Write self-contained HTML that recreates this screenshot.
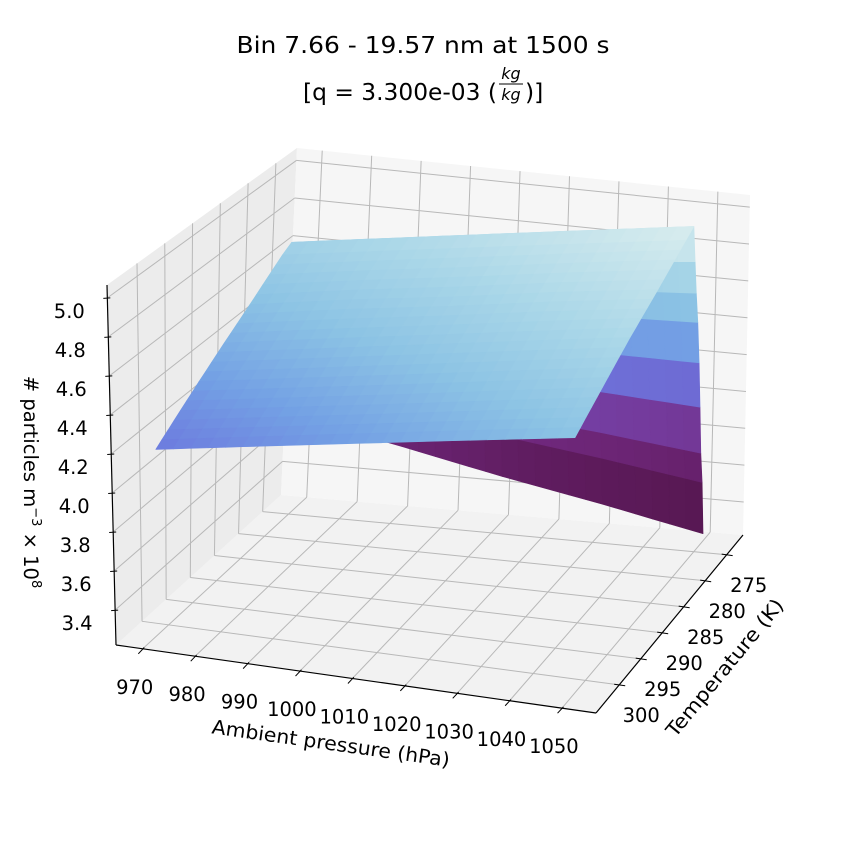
<!DOCTYPE html>
<html><head><meta charset="utf-8"><style>
html,body{margin:0;padding:0;background:#fff;}
svg{display:block;font-family:"DejaVu Sans","Liberation Sans",sans-serif;}
</style></head><body>
<svg id="chart" width="854" height="855" viewBox="0 0 854 855" xmlns="http://www.w3.org/2000/svg">
<rect x="0" y="0" width="854" height="855" fill="#fff"/>
<g id="panes"></g>
<g id="grid"></g>
<g id="surface"></g>
<g id="axes"></g>
<text x="423" y="53" text-anchor="middle" font-size="23.5" textLength="373" lengthAdjust="spacingAndGlyphs" fill="#000">Bin 7.66 - 19.57 nm at 1500 s</text>
<g>
<text x="303" y="100" font-size="23.5" fill="#000" textLength="194" lengthAdjust="spacingAndGlyphs">[q = 3.300e-03 (</text>
<text x="511" y="79" font-size="16" font-style="italic" text-anchor="middle" fill="#000">kg</text>
<line x1="499" y1="84" x2="523" y2="84" stroke="#000" stroke-width="1"/>
<text x="511" y="100" font-size="16" font-style="italic" text-anchor="middle" fill="#000">kg</text>
<text x="525" y="100" font-size="23.5" fill="#000">)]</text>
</g>
<text transform="translate(24,482) rotate(90)" text-anchor="middle" font-size="19.5" fill="#000"># particles m<tspan font-size="13" dy="-8">−3</tspan><tspan dy="8"> × 10</tspan><tspan font-size="13" dy="-8">8</tspan></text>
<text transform="translate(330,750) rotate(8)" text-anchor="middle" font-size="19.5" textLength="240" lengthAdjust="spacingAndGlyphs" fill="#000">Ambient pressure (hPa)</text>
<text transform="translate(730,672) rotate(-50.5)" text-anchor="middle" font-size="19.5" textLength="172" lengthAdjust="spacingAndGlyphs" fill="#000">Temperature (K)</text>
</svg>
<script>
// ---- data ----
const pressures = [970, 990, 1010, 1030, 1050];
const temperatures = [302, 296, 290, 284, 278, 276.3, 275.9, 275.5, 275.05, 274.6, 274.2, 273.8, 273.35, 272.9];
const values = [
  [4.17, 4.265, 4.36, 4.455, 4.55],
  [4.29, 4.38, 4.47, 4.565, 4.66],
  [4.41, 4.50, 4.59, 4.68, 4.77],
  [4.53, 4.62, 4.70, 4.79, 4.87],
  [4.66, 4.74, 4.82, 4.90, 4.98],
  [4.69, 4.77, 4.85, 4.93, 5.01],
  [4.57, 4.63, 4.69, 4.75, 4.81],
  [4.47, 4.51, 4.55, 4.59, 4.63],
  [4.37, 4.39, 4.42, 4.44, 4.46],
  [4.24, 4.24, 4.24, 4.23, 4.23],
  [4.09, 4.06, 4.04, 4.01, 3.98],
  [3.94, 3.89, 3.83, 3.78, 3.72],
  [3.85, 3.78, 3.70, 3.63, 3.55],
  [3.68, 3.58, 3.47, 3.37, 3.26]
];
const pressureTicks = [970, 980, 990, 1000, 1010, 1020, 1030, 1040, 1050];
const temperatureTicks = [275, 280, 285, 290, 295, 300];
const valueTicks = [3.4, 3.6, 3.8, 4.0, 4.2, 4.4, 4.6, 4.8, 5.0];
const valueTickLabels = ["3.4", "3.6", "3.8", "4.0", "4.2", "4.4", "4.6", "4.8", "5.0"];

// ---- axis limits & projection ----
const PMIN = 964.9, PMAX = 1056.5, TF = 305.4, TB = 271.2, ZMIN = 3.221, ZMAX = 5.066;
const FL = [116, 645], FR = [596, 713], BL = [281, 495], BR = [743, 535];
const TFL = [107, 285], TFR = [593, 361], TBL = [297, 148], TBR = [750, 195];
const NS = "http://www.w3.org/2000/svg";
function bil(a, b, c, d, u, v) {
  return [(1-u)*(1-v)*a[0] + u*(1-v)*b[0] + (1-u)*v*c[0] + u*v*d[0],
          (1-u)*(1-v)*a[1] + u*(1-v)*b[1] + (1-u)*v*c[1] + u*v*d[1]];
}
function projUVW(u, v, w) {
  const f = bil(FL, FR, BL, BR, u, v), t = bil(TFL, TFR, TBL, TBR, u, v);
  return [f[0] + w*(t[0]-f[0]), f[1] + w*(t[1]-f[1])];
}
const xs = p => (p - PMIN) / (PMAX - PMIN);
const ys = T => (TF - T) / (TF - TB);
const zs = z => (z - ZMIN) / (ZMAX - ZMIN);
function proj(p, T, z) { return projUVW(xs(p), ys(T), zs(z)); }

const stops = [[3.25,[80,20,70]],[3.55,[95,28,95]],[3.75,[112,40,125]],[3.95,[118,70,175]],[4.15,[108,118,222]],[4.35,[115,160,228]],[4.55,[140,195,228]],[4.75,[170,215,232]],[5.0,[215,236,238]]];
function cmap(z) {
  if (z <= stops[0][0]) return 'rgb(' + stops[0][1].join(',') + ')';
  for (let i = 1; i < stops.length; i++) {
    if (z <= stops[i][0]) {
      const f = (z - stops[i-1][0]) / (stops[i][0] - stops[i-1][0]);
      const c = stops[i-1][1].map((a, k) => Math.round(a + f*(stops[i][1][k]-a)));
      return 'rgb(' + c.join(',') + ')';
    }
  }
  return 'rgb(' + stops[stops.length-1][1].join(',') + ')';
}
function pts(a) { return a.map(q => q[0].toFixed(1) + ',' + q[1].toFixed(1)).join(' '); }
function line(g, a, b, stroke, sw) {
  const l = document.createElementNS(NS, 'line');
  l.setAttribute('x1', a[0]); l.setAttribute('y1', a[1]);
  l.setAttribute('x2', b[0]); l.setAttribute('y2', b[1]);
  l.setAttribute('stroke', stroke); l.setAttribute('stroke-width', sw);
  g.appendChild(l);
  return l;
}

// ---- panes ----
const panes = document.getElementById('panes');
const paneDefs = [
  ['floor-pane', '#f2f2f2', [[0,0,0],[1,0,0],[1,1,0],[0,1,0]]],
  ['left-pane', '#ececec', [[0,0,0],[0,1,0],[0,1,1],[0,0,1]]],
  ['back-pane', '#f6f6f6', [[0,1,0],[1,1,0],[1,1,1],[0,1,1]]]
];
for (const pd of paneDefs) {
  const pg = document.createElementNS(NS, 'polygon');
  pg.setAttribute('points', pts(pd[2].map(c => projUVW(c[0], c[1], c[2]))));
  pg.setAttribute('fill', pd[1]);
  
  
  panes.appendChild(pg);
}

// ---- grid ----
const grid = document.getElementById('grid');
const GC = '#b8b8b8';
for (const p of pressureTicks) {
  const u = xs(p);
  const a = line(grid, projUVW(u,0,0), projUVW(u,1,0), GC, 1);
  
  
  const b = line(grid, projUVW(u,1,0), projUVW(u,1,1), GC, 1);
  
  
}
for (const T of temperatureTicks) {
  const v = ys(T);
  const a = line(grid, projUVW(0,v,0), projUVW(1,v,0), GC, 1);
  
  
  const b = line(grid, projUVW(0,v,0), projUVW(0,v,1), GC, 1);
  
  
}
for (const z of valueTicks) {
  const w = zs(z);
  const a = line(grid, projUVW(0,1,w), projUVW(1,1,w), GC, 1);
  
  
  const b = line(grid, projUVW(0,0,w), projUVW(0,1,w), GC, 1);
  
  
}

// ---- surface ----
const surf = document.getElementById('surface');
const quads = [];
for (let i = 0; i < temperatures.length - 1; i++) {
  const nt = (temperatures[i] - temperatures[i+1]) > 2 ? 5 : 1;
  for (let j = 0; j < pressures.length - 1; j++) {
    const np = 6;
    for (let a = 0; a < nt; a++) {
      for (let b = 0; b < np; b++) {
        const corner = (fa, fb) => {
          const T = temperatures[i] + (temperatures[i+1]-temperatures[i]) * fa;
          const p = pressures[j] + (pressures[j+1]-pressures[j]) * fb;
          const z = (1-fa)*(1-fb)*values[i][j] + (1-fa)*fb*values[i][j+1] + fa*(1-fb)*values[i+1][j] + fa*fb*values[i+1][j+1];
          return [p, T, z];
        };
        const c = [corner(a/nt, b/np), corner(a/nt, (b+1)/np), corner((a+1)/nt, (b+1)/np), corner((a+1)/nt, b/np)];
        const zm = (c[0][2]+c[1][2]+c[2][2]+c[3][2]) / 4;
        const um = (xs(c[0][0]) + xs(c[1][0])) / 2;
        const vm = (ys(c[0][1]) + ys(c[2][1])) / 2;
        quads.push({c: c, zm: zm, key: vm + 0.3*(1-um)});
      }
    }
  }
}
quads.sort((a, b) => b.key - a.key);
for (const q of quads) {
  const pg = document.createElementNS(NS, 'polygon');
  pg.setAttribute('points', pts(q.c.map(k => proj(k[0], k[1], k[2]))));
  const col = cmap(q.zm);
  pg.setAttribute('fill', col);
  pg.setAttribute('stroke', col);
  pg.setAttribute('stroke-width', '0.7');
  pg.setAttribute('stroke-linejoin', 'round');
  
  
  surf.appendChild(pg);
}

// ---- axes, ticks, labels ----
const axes = document.getElementById('axes');
function label(txt, x, y, name) {
  const t = document.createElementNS(NS, 'text');
  t.setAttribute('x', x.toFixed(1)); t.setAttribute('y', y.toFixed(1));
  t.setAttribute('text-anchor', 'middle');
  t.setAttribute('font-size', '19.5');
  t.setAttribute('fill', '#000');
  t.textContent = txt;
  
  
  axes.appendChild(t);
}
let ax = line(axes, projUVW(0,0,0), projUVW(0,0,1), '#000', 1.2);


ax = line(axes, projUVW(0,0,0), projUVW(1,0,0), '#000', 1.2);


ax = line(axes, projUVW(1,0,0), projUVW(1,1,0), '#000', 1.2);



valueTicks.forEach((z, k) => {
  const q = projUVW(0, 0, zs(z));
  const t = line(axes, [q[0]-4, q[1]+0.5], [q[0]+3, q[1]], '#000', 1);
  
  
  label(valueTickLabels[k], q[0]-38, q[1]+20, 'z-tick-label');
});
pressureTicks.forEach(p => {
  const q = projUVW(xs(p), 0, 0);
  const t = line(axes, [q[0]+1.5, q[1]-1.3], [q[0]-4.4, q[1]+5], '#000', 1);
  
  
  label(String(p), q[0]-8, q[1]+45, 'x-tick-label');
});
temperatureTicks.forEach(T => {
  const q = projUVW(1, ys(T), 0);
  const t = line(axes, [q[0]-5, q[1]-0.7], [q[0]+6, q[1]+0.9], '#000', 1);
  
  
  label(String(T), q[0]+22, q[1]+37, 'y-tick-label');
});
</script>
</body></html>
